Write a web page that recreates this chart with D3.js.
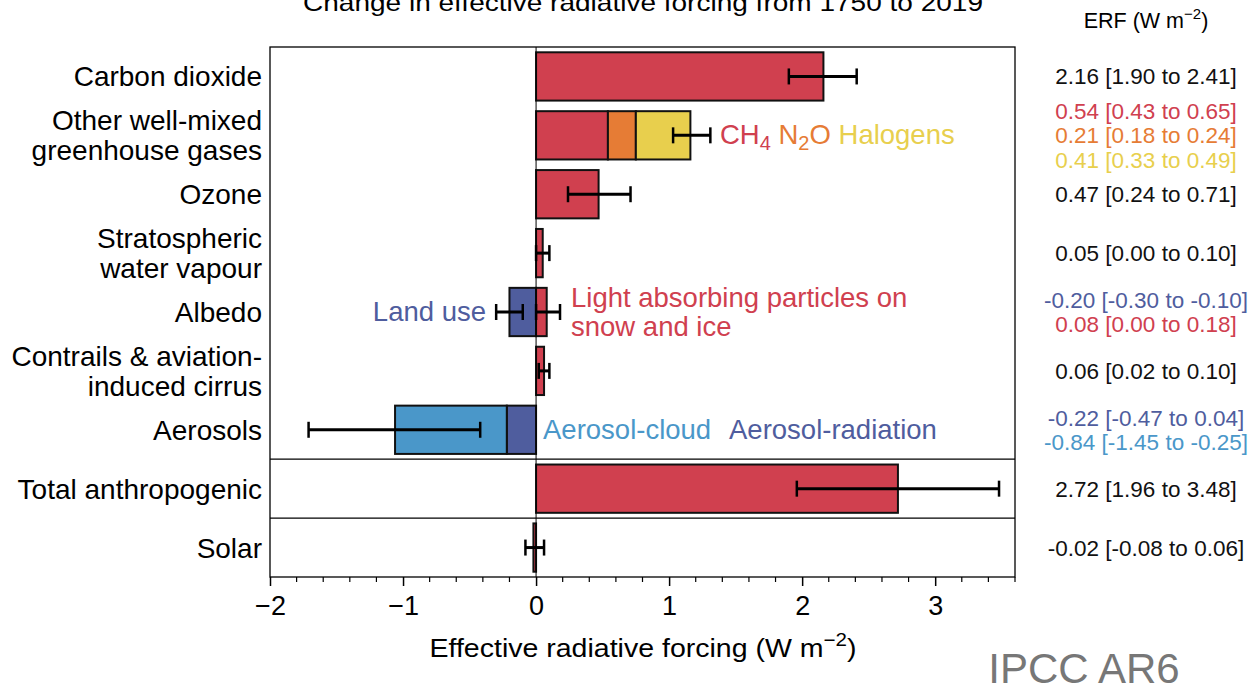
<!DOCTYPE html>
<html><head><meta charset="utf-8">
<script src="https://cdn.jsdelivr.net/npm/d3@7"></script>
<style>body{margin:0;background:#fff}svg{display:block}text{font-family:"Liberation Sans",Arial,sans-serif}</style>
</head><body><svg id="c" width="1255" height="690"></svg>
<script>
// ---------- data ----------
const categories = [
  ["Carbon dioxide"],
  ["Other well-mixed", "greenhouse gases"],
  ["Ozone"],
  ["Stratospheric", "water vapour"],
  ["Albedo"],
  ["Contrails & aviation-", "induced cirrus"],
  ["Aerosols"],
  ["Total anthropogenic"],
  ["Solar"]
];
// stacked components: row index, value, colour key
const compRow   = [0, 1, 1, 1, 2, 3, 4, 4, 5, 6, 6, 7, 8];
const compValue = [2.16, 0.54, 0.21, 0.41, 0.47, 0.05, -0.20, 0.08, 0.06, -0.22, -0.84, 2.72, -0.02];
const compColor = ["red", "red", "orange", "yellow", "red", "red", "dblue", "red", "red", "dblue", "lblue", "red", "red"];
// error bars
const errRow = [0, 1, 2, 3, 4, 4, 5, 6, 7, 8];
const errLo  = [1.90, 1.03, 0.24, 0.00, -0.30, 0.00, 0.02, -1.71, 1.96, -0.08];
const errHi  = [2.41, 1.31, 0.71, 0.10, -0.10, 0.18, 0.10, -0.42, 3.48, 0.06];
// right-hand ERF column
const erfRow   = [0, 1, 1, 1, 2, 3, 4, 4, 5, 6, 6, 7, 8];
const erfSub   = [0, -1, 0, 1, 0, 0, -0.5, 0.5, 0, -0.5, 0.5, 0, 0];
const erfText  = ["2.16 [1.90 to 2.41]", "0.54 [0.43 to 0.65]", "0.21 [0.18 to 0.24]", "0.41 [0.33 to 0.49]",
  "0.47 [0.24 to 0.71]", "0.05 [0.00 to 0.10]", "-0.20 [-0.30 to -0.10]", "0.08 [0.00 to 0.18]",
  "0.06 [0.02 to 0.10]", "-0.22 [-0.47 to 0.04]", "-0.84 [-1.45 to -0.25]", "2.72 [1.96 to 3.48]", "-0.02 [-0.08 to 0.06]"];
const erfColor = ["black", "red", "orange", "yellow", "black", "black", "dblue", "red", "black", "dblue", "lblue", "black", "black"];
const xTicks = [-2, -1, 0, 1, 2, 3];
const xDomain = [-2, 3.6];

const colors = {red: "#d0404f", orange: "#e67c35", yellow: "#e8cf4d", dblue: "#4f5d9e", lblue: "#4a97c9", black: "#111"};

// ---------- layout ----------
const svg = d3.select("#c");
const L = 270, R = 1015, T = 47, B = 577;
const x = d3.scaleLinear().domain(xDomain).range([L, R]);
const rows = d3.range(categories.length);
const y = d3.scaleBand().domain(rows).range([T, B]).paddingInner(0.18).paddingOuter(0.09);
const band = d3.scaleBand().domain(rows).range([T, B]);
const yc = i => y(i) + y.bandwidth() / 2;

// title
svg.append("text").attr("x", 643).attr("y", 11).attr("text-anchor", "middle")
  .attr("font-size", 24).attr("textLength", 680).attr("lengthAdjust", "spacingAndGlyphs")
  .text("Change in effective radiative forcing from 1750 to 2019");

// frame
svg.append("rect").attr("x", L).attr("y", T).attr("width", R - L).attr("height", B - T)
  .attr("fill", "none").attr("stroke", "#000").attr("stroke-width", 1.3);
[7, 8].forEach(i => svg.append("line").attr("x1", L).attr("x2", R)
  .attr("y1", band(i)).attr("y2", band(i)).attr("stroke", "#000").attr("stroke-width", 1.3));

// stacked bars
let posAcc = {}, negAcc = {};
const comps = compValue.map((v, k) => {
  const r = compRow[k];
  let s;
  if (v >= 0) { s = posAcc[r] || 0; posAcc[r] = s + v; }
  else { s = negAcc[r] || 0; negAcc[r] = s + v; }
  return {r, s, e: s + v, c: colors[compColor[k]]};
});
svg.append("g").selectAll("rect").data(comps).join("rect")
  .attr("x", d => x(Math.min(d.s, d.e))).attr("width", d => Math.abs(x(d.e) - x(d.s)))
  .attr("y", d => y(d.r)).attr("height", y.bandwidth())
  .attr("fill", d => d.c).attr("stroke", "#111").attr("stroke-width", 2);

// zero line
svg.append("line").attr("x1", x(0)).attr("x2", x(0)).attr("y1", T).attr("y2", B)
  .attr("stroke", "#000").attr("stroke-width", 1);

// error bars
const eg = svg.append("g").attr("stroke", "#000").attr("stroke-width", 3);
errRow.forEach((r, k) => {
  const cy = yc(r);
  eg.append("line").attr("x1", x(errLo[k])).attr("x2", x(errHi[k])).attr("y1", cy).attr("y2", cy);
  [errLo[k], errHi[k]].forEach(v => eg.append("line").attr("x1", x(v)).attr("x2", x(v))
    .attr("y1", cy - 8).attr("y2", cy + 8).attr("stroke-width", 2.5));
});

// category labels
categories.forEach((lines, i) => {
  const n = lines.length, cy = yc(i);
  lines.forEach((t, j) => svg.append("text").attr("x", 262).attr("y", cy + (j - (n - 1) / 2) * 30 + 10)
    .attr("text-anchor", "end").attr("font-size", 28).attr("fill", "#000").text(t));
});

// axis
const axis = d3.axisBottom(x).tickValues(xTicks).tickSize(9).tickFormat(d => d < 0 ? "\u2212" + Math.abs(d) : d);
const ag = svg.append("g").attr("transform", `translate(0,${B})`).call(axis);
ag.select(".domain").remove();
ag.selectAll(".tick line").attr("stroke", "#000").attr("stroke-width", 1.5);
ag.selectAll(".tick text").attr("font-size", 27).attr("fill", "#000").attr("dy", "0.95em")
  .style("font-family", '"Liberation Sans",Arial,sans-serif');
const minor = d3.range(-1.8, 3.61, 0.2).filter(v => Math.abs(v - Math.round(v)) > 0.01);
svg.append("g").selectAll("line").data(minor).join("line")
  .attr("x1", d => x(d)).attr("x2", d => x(d)).attr("y1", B).attr("y2", B + 5)
  .attr("stroke", "#000").attr("stroke-width", 1.2);

// axis label
const xl = svg.append("text").attr("x", 643).attr("y", 657).attr("text-anchor", "middle").attr("font-size", 25)
  .attr("textLength", 427).attr("lengthAdjust", "spacingAndGlyphs");
xl.append("tspan").text("Effective radiative forcing (W m");
xl.append("tspan").attr("dy", -11).attr("font-size", 18).text("\u22122");
xl.append("tspan").attr("dy", 11).text(")");

// ERF header
const eh = svg.append("text").attr("x", 1146).attr("y", 28).attr("text-anchor", "middle").attr("font-size", 21.5);
eh.append("tspan").text("ERF (W m");
eh.append("tspan").attr("dy", -9).attr("font-size", 15).text("\u22122");
eh.append("tspan").attr("dy", 9).text(")");

// ERF values
erfText.forEach((t, k) => svg.append("text").attr("x", 1146).attr("y", yc(erfRow[k]) + erfSub[k] * 24.5 + 8)
  .attr("text-anchor", "middle").attr("font-size", 22.5).attr("fill", colors[erfColor[k]]).text(t));

// annotations
const a1 = svg.append("text").attr("x", 720).attr("y", yc(1) + 9).attr("font-size", 27.5);
a1.append("tspan").attr("fill", colors.red).text("CH");
a1.append("tspan").attr("fill", colors.red).attr("dy", 6).attr("font-size", 20).text("4");
a1.append("tspan").attr("fill", colors.orange).attr("dy", -6).text(" N");
a1.append("tspan").attr("fill", colors.orange).attr("dy", 6).attr("font-size", 20).text("2");
a1.append("tspan").attr("fill", colors.orange).attr("dy", -6).text("O ");
a1.append("tspan").attr("fill", colors.yellow).text("Halogens");

svg.append("text").attr("x", 486).attr("y", yc(4) + 9).attr("text-anchor", "end").attr("font-size", 27.5)
  .attr("fill", colors.dblue).text("Land use");
svg.append("text").attr("x", 571).attr("y", yc(4) - 5).attr("font-size", 27.5).attr("fill", colors.red)
  .text("Light absorbing particles on");
svg.append("text").attr("x", 571).attr("y", yc(4) + 24).attr("font-size", 27.5).attr("fill", colors.red)
  .text("snow and ice");
svg.append("text").attr("x", 543).attr("y", yc(6) + 9).attr("font-size", 27.5).attr("fill", colors.lblue)
  .text("Aerosol-cloud");
svg.append("text").attr("x", 729).attr("y", yc(6) + 9).attr("font-size", 27.5).attr("fill", colors.dblue)
  .text("Aerosol-radiation");

svg.append("text").attr("x", 1084).attr("y", 683).attr("text-anchor", "middle").attr("font-size", 42)
  .attr("fill", "#777").text("IPCC AR6");
</script></body></html>
